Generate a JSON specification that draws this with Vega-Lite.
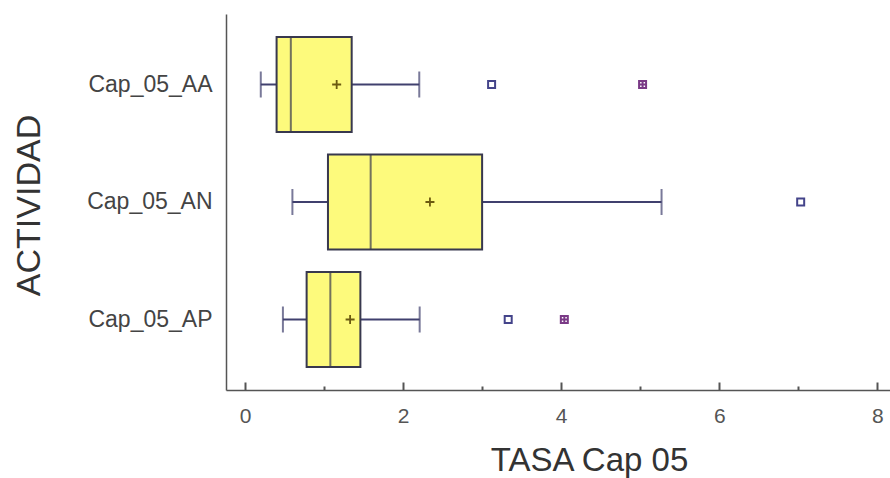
{
  "$schema": "https://vega.github.io/schema/vega-lite/v6.json",
  "autosize": "none",
  "padding": {"left": 226, "top": 14, "right": 0, "bottom": 88},
  "width": 664,
  "height": 376,
  "background": "white",
  "config": {
    "view": {"stroke": null},
    "font": "Liberation Sans"
  },
  "datasets": {
    "stats": [
      {"cat": "Cap_05_AA", "lo": 0.20, "q1": 0.40, "med": 0.58, "q3": 1.35, "hi": 2.205, "mean": 1.16},
      {"cat": "Cap_05_AN", "lo": 0.60, "q1": 1.05, "med": 1.59, "q3": 3.00, "hi": 5.27, "mean": 2.34},
      {"cat": "Cap_05_AP", "lo": 0.48, "q1": 0.78, "med": 1.08, "q3": 1.46, "hi": 2.21, "mean": 1.33}
    ],
    "outliers": [
      {"cat": "Cap_05_AA", "v": 3.12, "far": false},
      {"cat": "Cap_05_AA", "v": 5.03, "far": true},
      {"cat": "Cap_05_AN", "v": 7.03, "far": false},
      {"cat": "Cap_05_AP", "v": 3.33, "far": false},
      {"cat": "Cap_05_AP", "v": 4.04, "far": true}
    ]
  },
  "encoding": {
    "y": {
      "field": "cat",
      "type": "nominal",
      "sort": ["Cap_05_AA", "Cap_05_AN", "Cap_05_AP"],
      "scale": {"type": "band", "paddingInner": 0, "paddingOuter": 0.1, "domain": ["Cap_05_AA", "Cap_05_AN", "Cap_05_AP"]},
      "axis": {
        "title": "ACTIVIDAD",
        "titleFont": "Liberation Sans",
        "titleFontSize": 34,
        "titleFontWeight": "normal",
        "titleColor": "#333333",
        "titleAngle": -90,
        "titleBaseline": "middle",
        "titleAlign": "center",
        "titleX": -197,
        "titleY": 191,
        "ticks": false,
        "labelPadding": 14,
        "labelFontSize": 23,
        "labelColor": "#444444",
        "labelFont": "Liberation Sans",
        "domainColor": "#555555",
        "domainWidth": 1.5,
        "grid": false
      }
    }
  },
  "layer": [
    {
      "data": {"name": "stats"},
      "mark": {"type": "rule", "color": "#40406e", "strokeWidth": 2},
      "encoding": {
        "x": {
          "field": "lo",
          "type": "quantitative",
          "scale": {"domain": [-0.24, 8.16], "nice": false, "zero": false},
          "axis": {
            "title": "TASA Cap 05",
            "titleFont": "Liberation Sans",
            "titleFontSize": 33,
            "titleFontWeight": "normal",
            "titleColor": "#333333",
            "titleX": 363,
            "titleY": 80,
            "titleBaseline": "alphabetic",
            "titleAlign": "center",
            "values": [0, 0.5, 1, 1.5, 2, 2.5, 3, 3.5, 4, 4.5, 5, 5.5, 6, 6.5, 7, 7.5, 8],
            "format": "d",
            "labelExpr": "datum.value % 2 === 0 ? datum.label : ''",
            "tickSize": {"condition": {"test": "datum.value % 2 === 0", "value": -8}, "value": -4},
            "tickColor": "#555555",
            "tickWidth": 2,
            "labelPadding": 23,
            "labelFontSize": 21,
            "labelColor": "#555555",
            "labelFont": "Liberation Sans",
            "labelFlush": false,
            "domainColor": "#555555",
            "domainWidth": 1.5,
            "grid": false
          }
        },
        "x2": {"field": "q1"}
      }
    },
    {
      "data": {"name": "stats"},
      "mark": {"type": "rule", "color": "#40406e", "strokeWidth": 2},
      "encoding": {
        "x": {"field": "q3", "type": "quantitative"},
        "x2": {"field": "hi"}
      }
    },
    {
      "data": {"name": "stats"},
      "mark": {"type": "tick", "color": "#40406e", "size": 26, "thickness": 2},
      "encoding": {"x": {"field": "lo", "type": "quantitative"}}
    },
    {
      "data": {"name": "stats"},
      "mark": {"type": "tick", "color": "#40406e", "size": 26, "thickness": 2},
      "encoding": {"x": {"field": "hi", "type": "quantitative"}}
    },
    {
      "data": {"name": "stats"},
      "mark": {"type": "bar", "fill": "#fdfa7c", "stroke": "#38384e", "strokeWidth": 2, "height": 95},
      "encoding": {
        "x": {"field": "q1", "type": "quantitative"},
        "x2": {"field": "q3"}
      }
    },
    {
      "data": {"name": "stats"},
      "mark": {"type": "tick", "color": "#38384e", "size": 95, "thickness": 2},
      "encoding": {"x": {"field": "med", "type": "quantitative"}}
    },
    {
      "data": {"name": "stats"},
      "mark": {"type": "point", "shape": "M-1,0H1M0,-1V1", "stroke": "#6b5a10", "strokeWidth": 1.8, "size": 81, "opacity": 1},
      "encoding": {"x": {"field": "mean", "type": "quantitative"}}
    },
    {
      "data": {"name": "outliers"},
      "transform": [{"filter": "!datum.far"}],
      "mark": {"type": "point", "shape": "square", "stroke": "#44448a", "fill": "white", "filled": false, "strokeWidth": 2, "size": 49, "opacity": 1},
      "encoding": {"x": {"field": "v", "type": "quantitative"}}
    },
    {
      "data": {"name": "outliers"},
      "transform": [{"filter": "datum.far"}],
      "mark": {"type": "point", "shape": "M-1,-1H1V1H-1ZM-1,0H1M0,-1V1", "stroke": "#7a3a86", "strokeWidth": 2, "size": 49, "opacity": 1},
      "encoding": {"x": {"field": "v", "type": "quantitative"}}
    }
  ]
}
